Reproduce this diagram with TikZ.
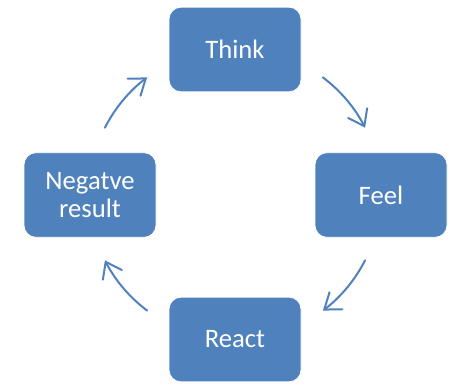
\documentclass[tikz,border=0pt]{standalone}
\usepackage{fontspec}
\setmainfont{Carlito}
\usetikzlibrary{arrows.meta,calc}
\definecolor{boxblue}{HTML}{4F81BD}
\tikzset{
  stepbox/.style={rectangle, rounded corners=9pt, fill=boxblue, draw=white, line width=0.6pt,
    minimum width=99pt, minimum height=63.5pt, text=white, align=center,
    font=\fontsize{20pt}{21.5pt}\selectfont},
  cyc/.style={draw=boxblue, line width=1.5pt, line cap=round,
    -{Straight Barb[length=11pt,width=16pt,line cap=round]}}
}
\begin{document}
\begin{tikzpicture}[x=0.75pt,y=0.75pt]
\useasboundingbox (0,0) rectangle (450,383);
\node[stepbox] (think) at (235,333.5) {Think};
\node[stepbox] (feel) at (381,188) {Feel};
\node[stepbox] (react) at (235,43.5) {React};
\node[stepbox] (neg) at (90,188) {Negatve\\result};
\coordinate (o) at (235,189);
\draw[cyc] ($(o)+(53:109.5pt)$) arc[start angle=53,end angle=27,radius=109.5pt];
\draw[cyc] ($(o)+(-27:109.5pt)$) arc[start angle=-27,end angle=-53,radius=109.5pt];
\draw[cyc] ($(o)+(-127:109.5pt)$) arc[start angle=-127,end angle=-153,radius=109.5pt];
\draw[cyc] ($(o)+(153:109.5pt)$) arc[start angle=153,end angle=127,radius=109.5pt];
\end{tikzpicture}
\end{document}
